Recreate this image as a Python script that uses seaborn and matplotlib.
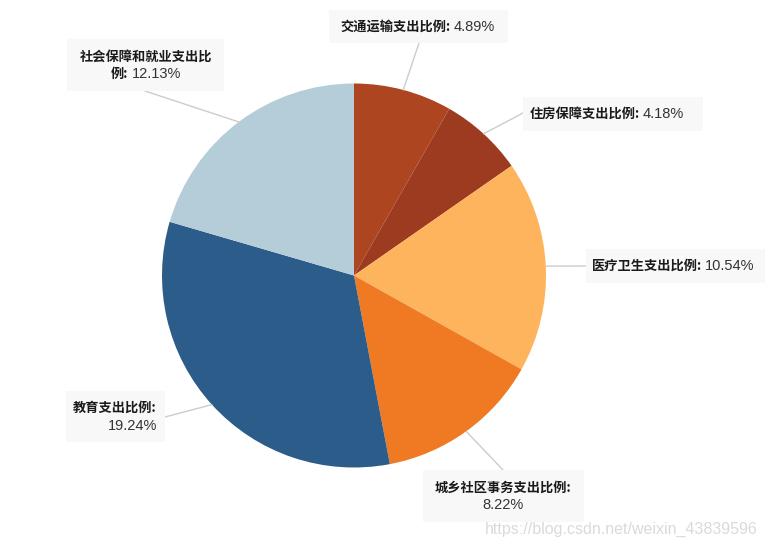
import matplotlib
matplotlib.use('Agg')
import matplotlib.pyplot as plt
import numpy as np
import seaborn as sns
from matplotlib.patches import Rectangle

# data
categories = ['交通运输支出比例', '住房保障支出比例', '医疗卫生支出比例',
              '城乡社区事务支出比例', '教育支出比例', '社会保障和就业支出比例']
values = [4.89, 4.18, 10.54, 8.22, 19.24, 12.13]
colors = ['#AD4521', '#9C3B20', '#FDB45C', '#F07A24', '#2C5C8A', '#B5CDD9']

sns.set_theme(style='white')
plt.rcParams['font.family'] = ['Noto Sans CJK SC', 'DejaVu Sans']

W, H = 768, 549
fig = plt.figure(figsize=(7.68, 5.49), dpi=100)
ax = fig.add_axes([0, 0, 1, 1])

cx, cy, r = 354, H - 275.5, 192
wedges, _ = ax.pie(values, colors=colors, startangle=90, counterclock=False,
                   center=(cx, cy), radius=r, wedgeprops=dict(linewidth=0))
ax.set_xlim(0, W)
ax.set_ylim(0, H)
ax.set_aspect('equal')
ax.axis('off')

# label layout (pixel coords, y down): box, leader end, text anchor, align, line ys, wrap mode
layout = [
    dict(box=(329, 10, 508, 43), end=(419, 43), x=418, ys=[27], align='center', mode='one'),
    dict(box=(523, 97, 703, 131), end=(523, 113), x=607, ys=[114], align='center', mode='one'),
    dict(box=(586, 249, 765, 283), end=(586, 266), x=673, ys=[266], align='center', mode='one'),
    dict(box=(423, 470, 584, 522), end=(503, 470), x=503, ys=[488, 505], align='center', mode='two'),
    dict(box=(66, 391, 165, 442), end=(165, 417), x=157, ys=[408, 426], align='right', mode='two'),
    dict(box=(67, 39, 224, 91), end=(145, 91), x=146, ys=[57, 74], align='center', mode='wrap'),
]

renderer = fig.canvas.get_renderer()
cjk = ['Noto Sans CJK SC', 'DejaVu Sans']
num = ['Liberation Sans', 'DejaVu Sans']


def put_line(segs, x, y, align):
    texts = []
    for s, bold in segs:
        t = ax.text(0, H - y, s, fontsize=9.5 if bold else 10.5, va='center', ha='left',
                    fontweight='bold' if bold else 'normal',
                    family=cjk if bold else num,
                    color='#1a1a1a' if bold else '#333333')
        texts.append(t)
    widths = [t.get_window_extent(renderer).width for t in texts]
    gap = 3
    total = sum(widths) + gap * (len(texts) - 1)
    if align == 'center':
        start = x - total / 2
    elif align == 'right':
        start = x - total
    else:
        start = x
    for t, w in zip(texts, widths):
        t.set_x(start)
        start += w + gap


total = sum(values)
cum = 0
for cat, v, lay in zip(categories, values, layout):
    mid = np.deg2rad(90 - 360 * (cum + v / 2) / total)
    cum += v
    sx, sy = cx + r * np.cos(mid), cy + r * np.sin(mid)
    ex, ey = lay['end']
    ax.plot([sx, ex], [sy, H - ey], color='#cccccc', lw=1, zorder=1)

    x0, y0, x1, y1 = lay['box']
    ax.add_patch(Rectangle((x0, H - y1), x1 - x0, y1 - y0, facecolor='#f8f8f8',
                           edgecolor='none', zorder=2))

    val = f'{v:.2f}%'
    if lay['mode'] == 'one':
        lines = [[(cat + ':', True), (val, False)]]
    elif lay['mode'] == 'two':
        lines = [[(cat + ':', True)], [(val, False)]]
    else:
        lines = [[(cat[:-1], True)], [(cat[-1] + ':', True), (val, False)]]
    for segs, y in zip(lines, lay['ys']):
        put_line(segs, lay['x'], y, lay['align'])

# watermark
ax.text(758, H - 529, 'https://blog.csdn.net/weixin_43839596', fontsize=11.5,
        family=num, color='#dadada', ha='right', va='center')

fig.savefig('out.png', dpi=100)
